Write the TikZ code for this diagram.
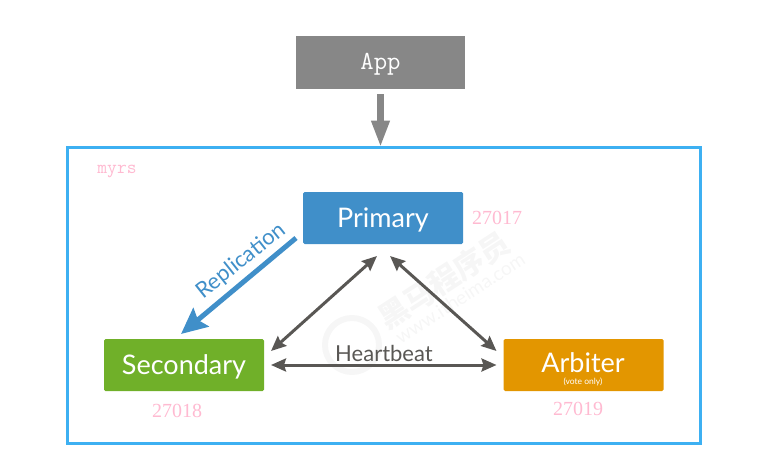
\documentclass[tikz,border=0pt]{standalone}
\usepackage{fontspec}
\setmainfont{Lato}
\newfontfamily\portfont{Liberation Serif}
\newfontfamily\cjkfont{Noto Sans CJK SC}
\usetikzlibrary{arrows.meta,positioning}
\definecolor{appgray}{rgb}{0.53,0.53,0.53}
\definecolor{frameblue}{rgb}{0.24,0.69,0.95}
\definecolor{priblue}{rgb}{0.25,0.56,0.79}
\definecolor{secgreen}{rgb}{0.44,0.69,0.16}
\definecolor{arborange}{rgb}{0.89,0.59,0.00}
\definecolor{beatgray}{rgb}{0.35,0.34,0.33}
\definecolor{portpink}{rgb}{1.00,0.73,0.82}
\definecolor{markgray}{rgb}{0.965,0.965,0.965}
\tikzset{
  blk/.style={
    rounded corners=1.5pt, inner sep=0pt, outer sep=0pt, text=white,
    minimum width=160pt, minimum height=52pt, text height=18pt, text depth=0pt,
    font=\fontsize{27}{30}\selectfont
  },
  port/.style={text=portpink, inner sep=0pt, font=\portfont\fontsize{20}{22}\selectfont},
  beat/.style={draw=beatgray, line width=3pt, {Stealth[length=15pt,width=13pt,inset=2pt]}-{Stealth[length=15pt,width=13pt,inset=2pt]}},
  wmark/.style={text=markgray, inner sep=0pt, rotate=33}
}
\begin{document}
\begin{tikzpicture}[x=1pt,y=-1pt]
    \useasboundingbox (0,0) rectangle (774,471);

    % Faint watermark behind the replica set.
    \node[circle, draw=markgray, line width=6pt, minimum size=54pt, inner sep=0pt] (logo) at (352,345) {};
    \node[wmark, font=\cjkfont\bfseries\fontsize{30}{32}\selectfont] (markcn) at (444,280) {黑马程序员};
    \node[wmark, font=\fontsize{19}{21}\selectfont] (markurl) at (460,298) {www.itheima.com};

    % Replica set frame.
    \node[draw=frameblue, line width=3pt, inner sep=0pt, outer sep=0pt,
      minimum width=632.5pt, minimum height=295.5pt] (myrsbox) at (384,295.25) {};
    \node[text=portpink, inner sep=0pt, font=\ttfamily\fontsize{19}{22}\selectfont] (myrs) at (117,171) {myrs};

    % Client on top.
    \node[blk, fill=appgray, rounded corners=0pt, minimum width=169pt, minimum height=53pt,
      text height=14pt, font=\ttfamily\fontsize{26}{28}\selectfont] (app) at (380.5,62.5) {App};

    % Members of the set.
    \node[blk, fill=priblue] (primary) at (383,218) {Primary};
    \node[blk, fill=secgreen] (secondary) at (184,365) {Secondary};
    \node[blk, fill=arborange] (arbiter) at (583.5,365) {};
    \node[text=white, inner sep=0pt, font=\fontsize{27}{30}\selectfont] (arbname) at (583,363) {Arbiter};
    \node[text=white, inner sep=0pt, font=\fontsize{8.5}{10}\selectfont, below=4pt of arbname] (arbnote) {(vote only)};

    % Ports.
    \node[port, right=9pt of primary] (portpri) {27017};
    \node[port, below=13pt of secondary, xshift=-7pt] (portsec) {27018};
    \node[port, below=11pt of arbiter, xshift=-5.5pt] (portarb) {27019};

    % Client to the set.
    \coordinate (appout) at ([yshift=-5pt]app.south);
    \coordinate (appin) at (app.south |- myrsbox.north);
    \draw[draw=appgray, line width=7.5pt, -{Triangle[length=27pt,width=17pt]}] (appout) -- (appin);

    % Replication.
    \coordinate (repfrom) at ([xshift=-7pt,yshift=6pt]primary.south west);
    \coordinate (repto) at ([xshift=-3pt,yshift=5pt]secondary.north);
    \draw[draw=priblue, line width=5pt, -{Stealth[length=26pt,width=24pt,inset=4pt]}] (repfrom) -- (repto);
    \node[text=priblue, inner sep=0pt, rotate=38.5, font=\fontsize{22}{25}\selectfont] (replabel) at (241.5,261) {Replication};

    % Heartbeats.
    \coordinate (pritosec) at ([xshift=-6pt,yshift=-12pt]primary.south);
    \coordinate (pritoarb) at ([xshift=7pt,yshift=-12pt]primary.south);
    \coordinate (secup) at ([xshift=7pt,yshift=14pt]secondary.east);
    \coordinate (secbeat) at ([xshift=7pt]secondary.east);
    \coordinate (arbup) at ([xshift=-7pt,yshift=14pt]arbiter.west);
    \coordinate (arbbeat) at ([xshift=-7pt]arbiter.west);
    \draw[beat] (pritosec) -- (secup);
    \draw[beat] (pritoarb) -- (arbup);
    \draw[beat] (secbeat) -- (arbbeat);
    \node[text=beatgray, inner sep=0pt, font=\fontsize{22}{24}\selectfont] (beatlabel) at (384,353) {Heartbeat};
  \end{tikzpicture}
\end{document}
